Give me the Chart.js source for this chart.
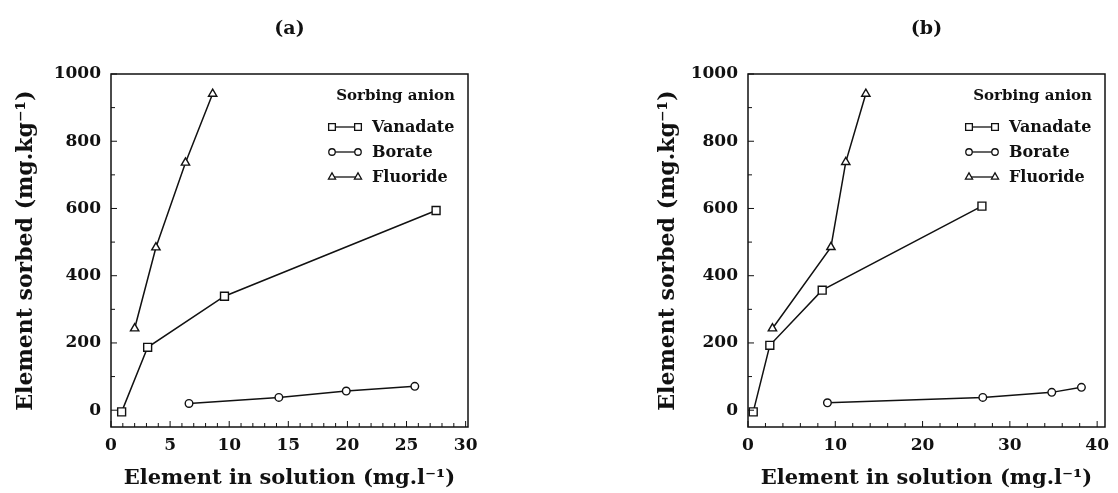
<!DOCTYPE html>
<html>
<head>
<meta charset="utf-8">
<script src="https://cdn.jsdelivr.net/npm/chart.js@4.4.1/dist/chart.umd.min.js"></script>
<style>
  body { margin: 0; background: #fff; }
  .panel { position: absolute; top: 0; width: 559px; height: 493px; }
  #wrapA { left: 0; }
  #wrapB { left: 559px; }
</style>
</head>
<body>
<div class="panel" id="wrapA"><canvas id="chartA" width="559" height="493"></canvas></div>
<div class="panel" id="wrapB"><canvas id="chartB" width="559" height="493"></canvas></div>
<script>
// panel (a) data
const aVanadateX = [0.9, 3.1, 9.6, 27.5];
const aVanadateY = [-5, 187, 339, 594];
const aBorateX = [6.6, 14.2, 19.9, 25.7];
const aBorateY = [20, 38, 57, 71];
const aFluorideX = [2.0, 3.8, 6.3, 8.6];
const aFluorideY = [243, 484, 736, 941];

// panel (b) data
const bVanadateX = [0.6, 2.5, 8.5, 26.8];
const bVanadateY = [-5, 193, 357, 607];
const bBorateX = [9.1, 26.9, 34.8, 38.2];
const bBorateY = [22, 38, 53, 68];
const bFluorideX = [2.8, 9.5, 11.2, 13.5];
const bFluorideY = [243, 485, 738, 941];

const aXTicks = [0, 5, 10, 15, 20, 25, 30];
const bXTicks = [0, 10, 20, 30, 40];
const yTicks = [0, 200, 400, 600, 800, 1000];

const seriesNames = ['Vanadate', 'Borate', 'Fluoride'];
const markers = ['rect', 'circle', 'triangle'];
const markerRadius = [5.6, 3.8, 4.8];

const FONT = '"DejaVu Serif", "Liberation Serif", serif';
const INK = '#111';

function pts(xs, ys) {
    return xs.map((x, i) => ({ x: x, y: ys[i] }));
}

// frame, inward ticks and the in-plot legend
const framePlugin = {
    id: 'frame',
    afterDraw(chart, args, opts) {
        const ctx = chart.ctx;
        const area = chart.chartArea;
        const xs = chart.scales.x, ys = chart.scales.y;
        ctx.save();
        ctx.strokeStyle = INK;
        ctx.lineWidth = 1.5;
        ctx.strokeRect(area.left, area.top, area.right - area.left, area.bottom - area.top);

        ctx.lineWidth = 1;
        for (let v = 0; v <= xs.max + 1e-6; v += opts.xMinor) {
            const px = xs.getPixelForValue(v);
            const len = (Math.abs(v % opts.xMajor) < 1e-6) ? 6 : 4;
            ctx.beginPath();
            ctx.moveTo(px, area.bottom);
            ctx.lineTo(px, area.bottom - len);
            ctx.stroke();
        }
        for (let v = 0; v <= ys.max + 1e-6; v += 100) {
            const py = ys.getPixelForValue(v);
            const len = (v % 200 === 0) ? 6 : 4;
            ctx.beginPath();
            ctx.moveTo(area.left, py);
            ctx.lineTo(area.left + len, py);
            ctx.stroke();
        }

        // legend
        const r = area.right;
        ctx.fillStyle = INK;
        ctx.font = 'bold 15px ' + FONT;
        ctx.textBaseline = 'middle';
        ctx.textAlign = 'right';
        ctx.fillText('Sorbing anion', r - 13, area.top + 22);
        ctx.font = 'bold 16px ' + FONT;
        ctx.textAlign = 'left';
        seriesNames.forEach((name, i) => {
            const y = area.top + 53 + i * 25;
            ctx.lineWidth = 1.3;
            ctx.beginPath();
            ctx.moveTo(r - 136, y);
            ctx.lineTo(r - 110, y);
            ctx.stroke();
            const po = { pointStyle: markers[i], radius: markerRadius[i] * 0.85, borderWidth: 1.3 };
            ctx.fillStyle = '#fff';
            Chart.helpers.drawPoint(ctx, po, r - 136, y);
            Chart.helpers.drawPoint(ctx, po, r - 110, y);
            ctx.fillStyle = INK;
            ctx.fillText(name, r - 96, y + 1);
        });
        ctx.restore();
    }
};

function makeChart(id, title, sets, xMax, xTicks, xMinor, xMajor, pad, yWidth) {
    const datasets = sets.map((s, i) => ({
        label: seriesNames[i],
        data: s,
        showLine: true,
        tension: 0,
        borderColor: INK,
        borderWidth: 1.5,
        pointStyle: markers[i],
        pointRadius: markerRadius[i],
        pointBorderWidth: 1.4,
        pointBackgroundColor: '#fff',
        pointBorderColor: INK
    }));
    return new Chart(document.getElementById(id), {
        type: 'scatter',
        data: { datasets: datasets },
        plugins: [framePlugin],
        options: {
            responsive: false,
            animation: false,
            layout: { padding: pad },
            plugins: {
                legend: { display: false },
                tooltip: { enabled: false },
                title: {
                    display: true,
                    text: title,
                    fullSize: false,
                    color: INK,
                    font: { family: FONT, size: 19, weight: 'bold' },
                    padding: { top: 18, bottom: 33.2 }
                },
                frame: { xMinor: xMinor, xMajor: xMajor }
            },
            scales: {
                x: {
                    type: 'linear',
                    min: 0,
                    max: xMax,
                    grid: { display: false, drawTicks: false },
                    border: { display: false },
                    afterBuildTicks: (s) => { s.ticks = xTicks.map(v => ({ value: v })); },
                    afterFit: (s) => { s.height = 66; },
                    ticks: {
                        color: INK,
                        padding: 8,
                        maxRotation: 0,
                        callback: (v) => String(v),
                        font: { family: FONT, size: 17, weight: 'bold' }
                    },
                    title: {
                        display: true,
                        text: 'Element in solution (mg.l⁻¹)',
                        color: INK,
                        font: { family: FONT, size: 21, weight: 'bold' },
                        padding: { top: 0, bottom: 2 }
                    }
                },
                y: {
                    type: 'linear',
                    min: -50,
                    max: 1000,
                    grid: { display: false, drawTicks: false },
                    border: { display: false },
                    afterBuildTicks: (s) => { s.ticks = yTicks.map(v => ({ value: v })); },
                    afterFit: (s) => { s.width = yWidth; },
                    ticks: {
                        color: INK,
                        padding: 10,
                        callback: (v) => String(v),
                        font: { family: FONT, size: 17, weight: 'bold' }
                    },
                    title: {
                        display: true,
                        text: 'Element sorbed (mg.kg⁻¹)',
                        color: INK,
                        font: { family: FONT, size: 22, weight: 'bold' },
                        padding: { top: 13, bottom: 0 }
                    }
                }
            }
        }
    });
}

makeChart('chartA', '(a)',
    [pts(aVanadateX, aVanadateY), pts(aBorateX, aBorateY), pts(aFluorideX, aFluorideY)],
    30.2, aXTicks, 1, 5, { left: 0, right: 91, top: 0, bottom: 0 }, 111);

makeChart('chartB', '(b)',
    [pts(bVanadateX, bVanadateY), pts(bBorateX, bBorateY), pts(bFluorideX, bFluorideY)],
    40.9, bXTicks, 2, 10, { left: 83, right: 13, top: 0, bottom: 0 }, 106);
</script>
</body>
</html>
